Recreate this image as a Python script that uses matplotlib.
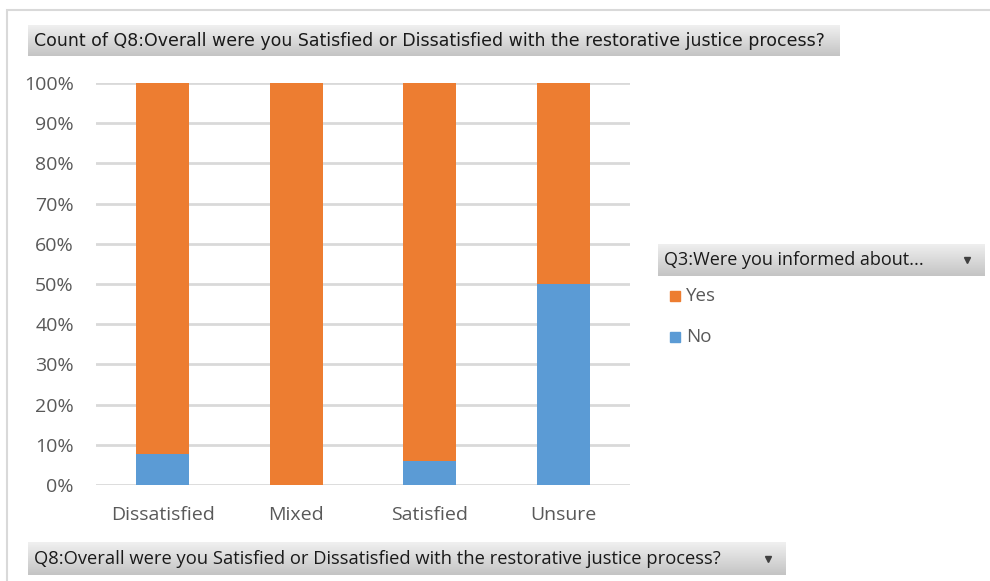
import matplotlib
matplotlib.use("Agg")
import matplotlib.pyplot as plt
import numpy as np
from matplotlib.patches import Rectangle
from matplotlib.ticker import PercentFormatter

categories = ["Dissatisfied", "Mixed", "Satisfied", "Unsure"]
no_share = [7.7, 0.0, 5.9, 50.0]
yes_share = [92.3, 100.0, 94.1, 50.0]
series_names = ["Yes", "No"]

title_text = "Count of Q8:Overall were you Satisfied or Dissatisfied with the restorative justice process?"
axis_field = "Q8:Overall were you Satisfied or Dissatisfied with the restorative justice process?"
legend_field = "Q3:Were you informed about..."

c_yes = "#ED7D31"
c_no = "#5B9BD5"
grey_txt = "#595959"
fam = ["Open Sans", "DejaVu Sans"]

W, H = 990, 581
fig = plt.figure(figsize=(W / 100, H / 100), dpi=100)

# outer frame of the pivot chart
fig.add_artist(Rectangle((7 / W, -0.01), 1.2, 1 - 10 / H + 0.01, transform=fig.transFigure,
                         fill=False, edgecolor="#d9d9d9", linewidth=1.5))


def field_button(x0, y0, x1, y1, text, fs, arrow=False, family=fam):
    # grey gradient button, coords in pixels from top-left
    bax = fig.add_axes([x0 / W, 1 - y1 / H, (x1 - x0) / W, (y1 - y0) / H])
    grad = np.linspace(0, 1, 64).reshape(-1, 1)
    bax.imshow(grad, aspect="auto", cmap=matplotlib.colors.LinearSegmentedColormap.from_list(
        "btn", ["#f0f0f0", "#c4c4c4"]), extent=(0, 1, 0, 1), origin="upper")
    bax.set_xlim(0, 1)
    bax.set_ylim(0, 1)
    bax.set_axis_off()
    bax.text(6 / (x1 - x0), 0.5, text, fontsize=fs, color="#1a1a1a", va="center", ha="left",
             family=family)
    if arrow:
        bax.plot([1 - 18 / (x1 - x0)], [0.5], marker="v", color="#404040", markersize=5)


field_button(28, 25, 840, 56, title_text, 12.55, family=["DejaVu Sans"])
field_button(28, 542, 786, 575, axis_field, 13.2, arrow=True)
field_button(658, 244, 985, 276, legend_field, 13, arrow=True)

ax = fig.add_axes([96 / W, 1 - 485 / H, (630 - 96) / W, (485 - 83) / H])
x = np.arange(len(categories))
ax.bar(x, no_share, width=0.4, color=c_no, zorder=3)
ax.bar(x, yes_share, width=0.4, bottom=no_share, color=c_yes, zorder=3)

ax.set_xlim(-0.5, len(categories) - 0.5)
ax.set_ylim(0, 100)
ax.set_yticks(np.arange(0, 101, 10))
ax.yaxis.set_major_formatter(PercentFormatter(decimals=0))
ax.set_xticks(x)
ax.set_xticklabels(categories)
ax.grid(axis="y", color="#d9d9d9", linewidth=2, zorder=0)
for s in ax.spines.values():
    s.set_visible(False)
ax.tick_params(length=0, labelcolor=grey_txt, labelsize=14)
ax.tick_params(axis="y", pad=16)
ax.tick_params(axis="x", pad=15)
for lab in ax.get_xticklabels() + ax.get_yticklabels():
    lab.set_family(fam)

# legend entries
for i, (name, col) in enumerate(zip(series_names, [c_yes, c_no])):
    yy = 296 + 41 * i
    fig.add_artist(Rectangle((670 / W, 1 - (yy + 5) / H), 10 / W, 10 / H,
                             transform=fig.transFigure, color=col))
    fig.text(686 / W, 1 - yy / H, name, fontsize=13.5, color=grey_txt, va="center",
             family=fam)

fig.savefig("out.png", dpi=100)
